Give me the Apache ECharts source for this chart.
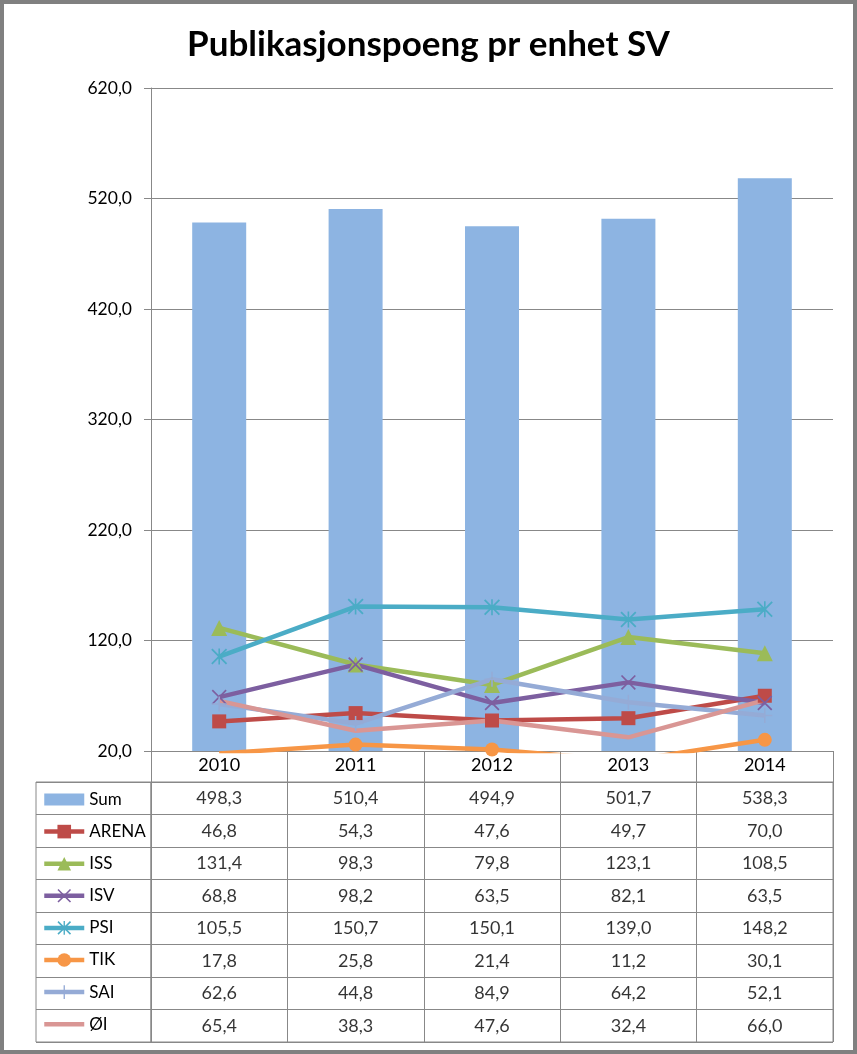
<!DOCTYPE html>
<html>
<head>
<meta charset="utf-8">
<script src="https://cdn.jsdelivr.net/npm/echarts@6/dist/echarts.min.js"></script>
<style>html,body{margin:0;padding:0;background:#fff;}#c{width:857px;height:1054px;}</style>
</head>
<body>
<div id="c"></div>
<script>
const categories = ['2010', '2011', '2012', '2013', '2014'];
const seriesNames = ['Sum', 'ARENA', 'ISS', 'ISV', 'PSI', 'TIK', 'SAI', 'ØI'];
const sum   = [498.3, 510.4, 494.9, 501.7, 538.3];
const arena = [46.8, 54.3, 47.6, 49.7, 70.0];
const iss   = [131.4, 98.3, 79.8, 123.1, 108.5];
const isv   = [68.8, 98.2, 63.5, 82.1, 63.5];
const psi   = [105.5, 150.7, 150.1, 139.0, 148.2];
const tik   = [17.8, 25.8, 21.4, 11.2, 30.1];
const sai   = [62.6, 44.8, 84.9, 64.2, 52.1];
const oi    = [65.4, 38.3, 47.6, 32.4, 66.0];
const yMin = 20, yMax = 620, yInterval = 100;

const values = [sum, arena, iss, isv, psi, tik, sai, oi];
const FONT = 'Lato';
const GRID = '#888888';
const fmt = v => v.toFixed(1).replace('.', ',');

const X_PATH = 'path://M0,1.6L1.6,0L10,8.4L18.4,0L20,1.6L11.6,10L20,18.4L18.4,20L10,11.6L1.6,20L0,18.4L8.4,10Z';
const AST_PATH = 'path://M0,1.6L1.6,0L10,8.4L18.4,0L20,1.6L11.6,10L20,18.4L18.4,20L10,11.6L1.6,20L0,18.4L8.4,10ZM9,0L11,0L11,20L9,20Z';
const PLUS_PATH = 'path://M9,0L11,0L11,9L20,9L20,11L11,11L11,20L9,20L9,11L0,11L0,9L9,9Z';
const BAR_ICON = 'path://M0,0L40,0L40,12L0,12Z';
const LINE_ICON = 'path://M0,0L40,0L40,4.5L0,4.5Z';

const lineDefs = [
  {name: 'ARENA', data: arena, color: '#BE4B48', symbol: 'rect', size: 14},
  {name: 'ISS', data: iss, color: '#9BBB59', symbol: 'triangle', size: 16},
  {name: 'ISV', data: isv, color: '#7D5FA0', symbol: X_PATH, size: 15},
  {name: 'PSI', data: psi, color: '#4BACC6', symbol: AST_PATH, size: 16},
  {name: 'TIK', data: tik, color: '#F79646', symbol: 'circle', size: 14},
  {name: 'SAI', data: sai, color: '#95ABD6', symbol: PLUS_PATH, size: 15},
  {name: 'ØI', data: oi, color: '#D99694', symbol: 'none', size: 0}
];

const tableData = [];
values.forEach((arr, r) => arr.forEach((v, c) => tableData.push([c, r, v])));

const chart = echarts.init(document.getElementById('c'));
const option = {
  animation: false,
  backgroundColor: '#fff',
  textStyle: {fontFamily: FONT},
  title: {
    text: 'Publikasjonspoeng pr enhet SV',
    left: 'center', top: 22,
    textStyle: {fontFamily: FONT, fontSize: 35, fontWeight: 'bold', color: '#000'}
  },
  legend: {
    data: [{name: 'Sum', icon: BAR_ICON}].concat(lineDefs.map(d =>
      d.symbol === 'none' ? {name: d.name, icon: LINE_ICON} : {name: d.name})),
    orient: 'vertical',
    left: 42, top: 791,
    height: 262,
    padding: 0,
    itemWidth: 40, itemHeight: 17, itemGap: 15.1,
    lineStyle: {width: 4.5},
    textStyle: {fontFamily: FONT, fontSize: 17, color: '#000', lineHeight: 17},
    selectedMode: false
  },
  grid: [
    {left: 151, right: 24, top: 88, bottom: 303},
    {left: 151, right: 24, top: 782, height: 260, show: true, borderColor: GRID, borderWidth: 1, backgroundColor: 'transparent'},
    {left: 36, width: 115, top: 782, height: 260, show: true, borderColor: GRID, borderWidth: 1, backgroundColor: 'transparent'}
  ],
  xAxis: [
    {
      type: 'category', gridIndex: 0, data: categories,
      axisLine: {lineStyle: {color: GRID, width: 1}},
      axisTick: {show: true, length: 31, interval: 0, lineStyle: {color: GRID}},
      axisLabel: {fontFamily: FONT, fontSize: 18, color: '#000', margin: 5}
    },
    {
      type: 'category', gridIndex: 1, data: categories,
      axisLine: {show: false}, axisTick: {show: false}, axisLabel: {show: false},
      splitLine: {show: true, interval: 0, lineStyle: {color: GRID, width: 1}}
    },
    {
      type: 'category', gridIndex: 2, data: [''],
      axisLine: {show: false}, axisTick: {show: false}, axisLabel: {show: false},
      splitLine: {show: false}
    }
  ],
  yAxis: [
    {
      type: 'value', gridIndex: 0, min: yMin, max: yMax, interval: yInterval,
      axisLine: {show: true, lineStyle: {color: GRID, width: 1}},
      axisTick: {show: true, length: 7, lineStyle: {color: GRID}},
      splitLine: {show: true, lineStyle: {color: GRID, width: 1}},
      axisLabel: {fontFamily: FONT, fontSize: 17.5, color: '#000', margin: 19, formatter: v => fmt(v)}
    },
    {
      type: 'category', gridIndex: 1, data: seriesNames, inverse: true,
      axisLine: {show: false}, axisTick: {show: false}, axisLabel: {show: false},
      splitLine: {show: true, interval: 0, lineStyle: {color: GRID, width: 1}}
    },
    {
      type: 'category', gridIndex: 2, data: seriesNames, inverse: true,
      axisLine: {show: false}, axisTick: {show: false}, axisLabel: {show: false},
      splitLine: {show: true, interval: 0, lineStyle: {color: GRID, width: 1}}
    }
  ],
  series: [
    {
      name: 'Sum', type: 'bar', xAxisIndex: 0, yAxisIndex: 0, data: sum,
      barWidth: 54, itemStyle: {color: '#8DB4E2'}
    }
  ].concat(lineDefs.map(d => ({
    name: d.name, type: 'line', xAxisIndex: 0, yAxisIndex: 0, data: d.data,
    symbol: d.symbol, symbolSize: d.size, showSymbol: d.symbol !== 'none',
    lineStyle: {color: d.color, width: 4.5},
    itemStyle: {color: d.color},
    clip: true
  }))).concat([
    {
      name: 'table', type: 'scatter', xAxisIndex: 1, yAxisIndex: 1,
      data: tableData, symbolSize: 1, itemStyle: {color: 'rgba(0,0,0,0)'},
      label: {show: true, position: 'inside', formatter: p => fmt(p.value[2]),
        fontFamily: FONT, fontSize: 18, color: '#000'},
      silent: true
    }
  ]),
  graphic: [
    {type: 'rect', shape: {x: 2, y: 2, width: 853, height: 1050},
     style: {fill: 'none', stroke: '#808080', lineWidth: 4}, silent: true}
  ]
};
chart.setOption(option);
</script>
</body>
</html>
